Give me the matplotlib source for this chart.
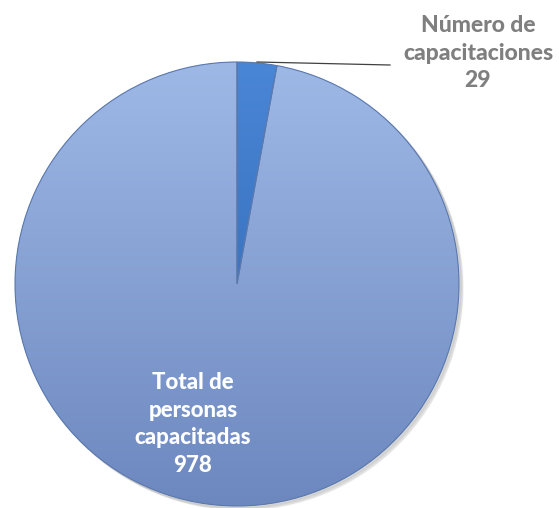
import numpy as np
import matplotlib.pyplot as plt
from matplotlib.colors import LinearSegmentedColormap
from matplotlib.patches import Wedge

labels = ['Número de\ncapacitaciones\n29', 'Total de\npersonas\ncapacitadas\n978']
values = [29, 978]

fig = plt.figure(figsize=(5.59, 5.08), dpi=100)
ax = fig.add_axes([0, 0, 1, 1])
ax.axis('off')

cx, cy, r = 237, 224, 222

# soft shadow
for k, a in enumerate([0.05, 0.05, 0.06]):
    ax.add_patch(plt.Circle((cx + 2 + k, cy - 2 - k), r, color='black', alpha=a, zorder=0))

wedges, _ = ax.pie(values, startangle=90, counterclock=False, center=(cx, cy), radius=r,
                   colors=['#3d7bc9', '#89a6d8'])

# vertical gradients clipped to each wedge (light at top)
grads = [['#4a86d6', '#2a62ad'], ['#9eb8e6', '#6d88bf']]
yy = np.linspace(0, 1, 256).reshape(-1, 1)
for w, g in zip(wedges, grads):
    cmap = LinearSegmentedColormap.from_list('g', g)
    im = ax.imshow(yy, cmap=cmap, extent=(cx - r, cx + r, cy - r, cy + r),
                   origin='upper', aspect='auto', zorder=1.5, interpolation='bicubic')
    im.set_clip_path(w)
    ax.add_patch(Wedge(w.center, w.r, w.theta1, w.theta2, facecolor='none',
                       edgecolor='#5a79ad', linewidth=0.8, zorder=2))

ax.set_xlim(0, 559)
ax.set_ylim(0, 508)
ax.set_aspect('equal')

# leader line
ax.plot([257, 390], [446, 443], color='#404040', lw=0.9, zorder=3)

ax.text(478, 455, labels[0], ha='center', va='center', fontsize=16.5,
        fontweight='black', color='#7f7f7f', family='Lato', linespacing=1.4)
ax.text(193, 84, labels[1], ha='center', va='center', fontsize=16,
        fontweight='black', color='white', family='Lato', linespacing=1.4, zorder=4)

fig.savefig('out.png', dpi=100)
